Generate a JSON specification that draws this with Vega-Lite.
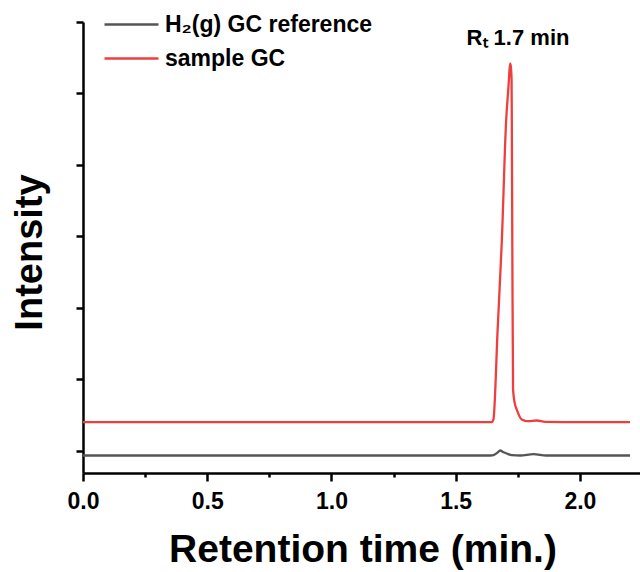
{
  "$schema": "https://vega.github.io/schema/vega-lite/v6.json",
  "width": 559,
  "height": 451,
  "autosize": {"type": "none"},
  "padding": {"left": 83, "top": 22, "right": 0, "bottom": 99},
  "background": "white",
  "config": {
    "font": "Liberation Sans",
    "view": {"stroke": null}
  },
  "data": {
    "values": [
      {"series": "H₂(g) GC reference", "t": 0, "v": -0.07},
      {"series": "H₂(g) GC reference", "t": 1.0, "v": -0.07},
      {"series": "H₂(g) GC reference", "t": 1.64, "v": -0.07},
      {"series": "H₂(g) GC reference", "t": 1.652, "v": -0.065},
      {"series": "H₂(g) GC reference", "t": 1.668, "v": -0.03},
      {"series": "H₂(g) GC reference", "t": 1.679, "v": 0.0},
      {"series": "H₂(g) GC reference", "t": 1.69, "v": -0.02},
      {"series": "H₂(g) GC reference", "t": 1.706, "v": -0.042},
      {"series": "H₂(g) GC reference", "t": 1.726, "v": -0.066},
      {"series": "H₂(g) GC reference", "t": 1.76, "v": -0.07},
      {"series": "H₂(g) GC reference", "t": 1.813, "v": -0.052},
      {"series": "H₂(g) GC reference", "t": 1.865, "v": -0.07},
      {"series": "H₂(g) GC reference", "t": 2.202, "v": -0.07},
      {"series": "sample GC", "t": 0, "v": 0.396},
      {"series": "sample GC", "t": 1.0, "v": 0.396},
      {"series": "sample GC", "t": 1.645, "v": 0.396},
      {"series": "sample GC", "t": 1.652, "v": 0.434},
      {"series": "sample GC", "t": 1.669, "v": 1.7},
      {"series": "sample GC", "t": 1.686, "v": 2.95},
      {"series": "sample GC", "t": 1.703, "v": 4.61},
      {"series": "sample GC", "t": 1.713, "v": 5.12},
      {"series": "sample GC", "t": 1.717, "v": 5.34},
      {"series": "sample GC", "t": 1.72, "v": 5.42},
      {"series": "sample GC", "t": 1.723, "v": 5.34},
      {"series": "sample GC", "t": 1.725, "v": 5.19},
      {"series": "sample GC", "t": 1.726, "v": 4.61},
      {"series": "sample GC", "t": 1.728, "v": 2.88},
      {"series": "sample GC", "t": 1.731, "v": 0.853},
      {"series": "sample GC", "t": 1.738, "v": 0.66},
      {"series": "sample GC", "t": 1.746, "v": 0.573},
      {"series": "sample GC", "t": 1.766, "v": 0.434},
      {"series": "sample GC", "t": 1.791, "v": 0.41},
      {"series": "sample GC", "t": 1.826, "v": 0.42},
      {"series": "sample GC", "t": 1.86, "v": 0.401},
      {"series": "sample GC", "t": 2.0, "v": 0.396},
      {"series": "sample GC", "t": 2.202, "v": 0.396}
    ]
  },
  "layer": [
    {
      "mark": {"type": "line", "strokeWidth": 2.3, "interpolate": "monotone"},
      "encoding": {
        "x": {
          "field": "t",
          "type": "quantitative",
          "scale": {"domain": [0, 2.25], "nice": false, "zero": false},
          "axis": {
            "title": "Retention time (min.)",
            "values": [0, 0.25, 0.5, 0.75, 1, 1.25, 1.5, 1.75, 2, 2.25],
            "labelExpr": "datum.value % 0.5 === 0 ? format(datum.value, '.1f') : ''",
            "grid": false,
            "domainColor": "black",
            "domainWidth": 2.5,
            "tickColor": "black",
            "tickWidth": 2.5,
            "tickSize": {"condition": {"test": "datum.value % 0.5 !== 0", "value": 4}, "value": 8},
            "labelFont": "Liberation Sans",
            "labelFontSize": 23,
            "labelFontWeight": "bold",
            "labelColor": "black",
            "labelPadding": 9,
            "labelFlush": false,
            "labelOverlap": false,
            "titleFont": "Liberation Sans",
            "titleFontSize": 39,
            "titleFontWeight": "bold",
            "titleColor": "black",
            "titleBaseline": "alphabetic",
            "titleY": 88
          }
        },
        "y": {
          "field": "v",
          "type": "quantitative",
          "scale": {"domain": [-0.315, 6], "nice": false, "zero": false},
          "axis": {
            "title": "Intensity",
            "values": [0, 1, 2, 3, 4, 5, 6],
            "labels": false,
            "grid": false,
            "domainColor": "black",
            "domainWidth": 2.5,
            "tickColor": "black",
            "tickWidth": 2.5,
            "tickSize": 7,
            "titleFont": "Liberation Sans",
            "titleFontSize": 38,
            "titleFontWeight": "bold",
            "titleColor": "black",
            "titleAngle": -90,
            "titleBaseline": "alphabetic",
            "titleAlign": "center",
            "titleX": -42,
            "titleY": 230
          }
        },
        "color": {
          "field": "series",
          "type": "nominal",
          "scale": {"domain": ["H₂(g) GC reference", "sample GC"], "range": ["#555555", "#ef3e3e"]},
          "legend": {
            "title": null,
            "orient": "none",
            "legendX": 37,
            "legendY": -9,
            "symbolType": "M-2.7,0H2.7",
            "symbolSize": 400,
            "symbolStrokeWidth": 2.5,
            "labelFont": "Liberation Sans",
            "labelFontSize": 23,
            "labelFontWeight": "bold",
            "labelColor": "black",
            "labelLimit": 0,
            "labelOffset": 22,
            "rowPadding": 10
          }
        }
      }
    },
    {
      "data": {"values": [{"label": "Rₜ 1.7 min"}]},
      "mark": {"type": "text", "font": "Liberation Sans", "fontSize": 22, "fontWeight": "bold", "color": "black", "baseline": "alphabetic", "align": "center"},
      "encoding": {
        "text": {"field": "label", "type": "nominal"},
        "x": {"datum": 1.751, "type": "quantitative"},
        "y": {"datum": 5.68, "type": "quantitative"}
      }
    }
  ]
}
